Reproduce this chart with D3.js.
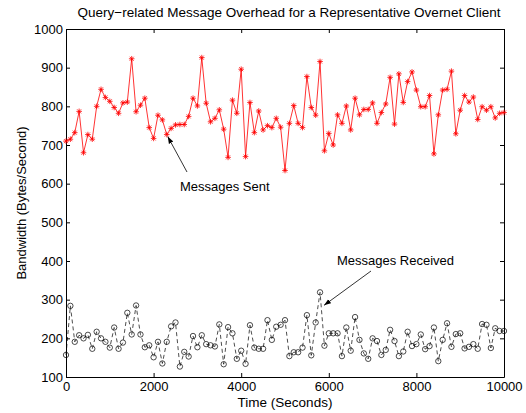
<!DOCTYPE html>
<html>
<head>
<meta charset="utf-8">
<script src="https://cdn.jsdelivr.net/npm/d3@7"></script>
<style>
  html, body { margin: 0; padding: 0; background: #fff; }
  svg { display: block; font-family: "Liberation Sans", Arial, Helvetica, sans-serif; }
</style>
</head>
<body>
<svg id="chart" width="526" height="413"></svg>
<script>
// Bandwidth samples (bytes/second), one every 100 seconds from t = 0 to t = 10000
const sentValues = [
  710, 715, 732, 787, 680, 727, 715, 800, 844, 823,
  813, 797, 782, 809, 811, 923, 786, 803, 821, 745,
  717, 777, 765, 727, 743, 752, 753, 753, 774, 821,
  801, 926, 808, 760, 769, 791, 741, 668, 816, 782,
  896, 670, 810, 732, 788, 739, 750, 745, 769, 746,
  634, 756, 802, 756, 745, 877, 797, 777, 916, 685,
  730, 700, 778, 756, 801, 739, 821, 778, 792, 792,
  809, 756, 784, 806, 875, 754, 884, 810, 864, 889,
  842, 799, 799, 828, 677, 778, 842, 844, 891, 729,
  790, 828, 811, 824, 766, 799, 790, 799, 770, 782,
  784
];
const receivedValues = [
  157, 284, 191, 208, 200, 209, 173, 217, 200, 191,
  176, 228, 173, 189, 266, 210, 285, 210, 177, 182,
  151, 191, 135, 191, 231, 241, 127, 165, 153, 206,
  177, 208, 185, 182, 179, 236, 133, 229, 213, 147,
  168, 134, 234, 176, 173, 173, 247, 196, 230, 235,
  247, 154, 164, 164, 176, 260, 156, 241, 319, 181,
  213, 213, 213, 154, 228, 168, 255, 196, 161, 147,
  200, 193, 157, 170, 222, 193, 154, 166, 217, 180,
  185, 210, 172, 180, 228, 141, 196, 239, 178, 211,
  213, 174, 178, 185, 173, 237, 235, 175, 226, 219,
  219
];
const sampleStep = 100;
const xTicks = [0, 2000, 4000, 6000, 8000, 10000];
const yTicks = [100, 200, 300, 400, 500, 600, 700, 800, 900, 1000];

const titleText = "Query\u2212related Message Overhead for a Representative Overnet Client";
const xLabel = "Time (Seconds)";
const yLabel = "Bandwidth (Bytes/Second)";
const sentLabel = "Messages Sent";
const receivedLabel = "Messages Received";
const sentPointed = 23;      // sample the "sent" arrow points at
const receivedPointed = 58;  // sample the "received" arrow points at

(function draw() {
  const svg = d3.select("#chart");
  const plotLeft = 66, plotRight = 504, plotTop = 29, plotBottom = 377;

  const x = d3.scaleLinear().domain([0, 10000]).range([plotLeft, plotRight]);
  const y = d3.scaleLinear().domain([100, 1000]).range([plotBottom, plotTop]);

  const sent = sentValues.map((v, i) => ({ t: i * sampleStep, v }));
  const received = receivedValues.map((v, i) => ({ t: i * sampleStep, v }));

  // Axes box with inward ticks on all four sides
  function styleAxis(g) {
    g.selectAll("path.domain").attr("stroke", "#000").attr("stroke-width", 1);
    g.selectAll(".tick line").attr("stroke", "#000").attr("stroke-width", 1);
    g.selectAll(".tick text").attr("fill", "#000").attr("font-size", 13)
      .attr("font-family", "'Liberation Sans', Arial, sans-serif");
  }
  svg.append("g").attr("transform", `translate(0,${plotBottom})`)
    .call(d3.axisBottom(x).tickValues(xTicks).tickFormat(d3.format("d"))
      .tickSizeInner(-4).tickSizeOuter(0).tickPadding(5))
    .call(styleAxis);
  svg.append("g").attr("transform", `translate(0,${plotTop})`)
    .call(d3.axisTop(x).tickValues(xTicks).tickFormat("")
      .tickSizeInner(-4).tickSizeOuter(0))
    .call(styleAxis);
  svg.append("g").attr("transform", `translate(${plotLeft},0)`)
    .call(d3.axisLeft(y).tickValues(yTicks).tickFormat(d3.format("d"))
      .tickSizeInner(-4).tickSizeOuter(0).tickPadding(3))
    .call(styleAxis);
  svg.append("g").attr("transform", `translate(${plotRight},0)`)
    .call(d3.axisRight(y).tickValues(yTicks).tickFormat("")
      .tickSizeInner(-4).tickSizeOuter(0))
    .call(styleAxis);

  const line = d3.line().x(d => x(d.t)).y(d => y(d.v));

  // Messages sent: solid red line with asterisk markers
  svg.append("path").datum(sent)
    .attr("d", line).attr("fill", "none")
    .attr("stroke", "#ff0000").attr("stroke-width", 0.8);
  const s = 2.8, sd = 2.0;
  svg.append("g").selectAll("path").data(sent).join("path")
    .attr("transform", d => `translate(${x(d.t)},${y(d.v)})`)
    .attr("d", `M${-s},0H${s}M0,${-s}V${s}M${-sd},${-sd}L${sd},${sd}M${-sd},${sd}L${sd},${-sd}`)
    .attr("stroke", "#ff0000").attr("stroke-width", 0.8).attr("fill", "none");

  // Messages received: dashed black line with open circle markers
  svg.append("path").datum(received)
    .attr("d", line).attr("fill", "none")
    .attr("stroke", "#000").attr("stroke-width", 0.7)
    .attr("stroke-dasharray", "4,3");
  svg.append("g").selectAll("circle").data(received).join("circle")
    .attr("cx", d => x(d.t)).attr("cy", d => y(d.v)).attr("r", 2.7)
    .attr("fill", "none").attr("stroke", "#000").attr("stroke-width", 0.7);

  // Arrowhead marker
  svg.append("defs").append("marker")
    .attr("id", "arrow").attr("viewBox", "0 0 10 10")
    .attr("refX", 10).attr("refY", 5)
    .attr("markerWidth", 7).attr("markerHeight", 7)
    .attr("markerUnits", "userSpaceOnUse")
    .attr("orient", "auto")
    .append("path").attr("d", "M0,1.5L10,5L0,8.5Z").attr("fill", "#000");

  // Annotations
  const sp = sent[sentPointed];
  svg.append("line")
    .attr("x1", 187).attr("y1", 172)
    .attr("x2", x(sp.t) + 1).attr("y2", y(sp.v) + 2)
    .attr("stroke", "#000").attr("stroke-width", 0.8)
    .attr("marker-end", "url(#arrow)");
  svg.append("text").attr("x", 180).attr("y", 191)
    .attr("font-size", 13).text(sentLabel);

  const rp = received[receivedPointed];
  svg.append("line")
    .attr("x1", 371).attr("y1", 271)
    .attr("x2", x(rp.t) + 4).attr("y2", y(rp.v) + 13)
    .attr("stroke", "#000").attr("stroke-width", 0.8)
    .attr("marker-end", "url(#arrow)");
  svg.append("text").attr("x", 337).attr("y", 265)
    .attr("font-size", 13).text(receivedLabel);

  // Titles
  svg.append("text").attr("x", 289).attr("y", 17)
    .attr("text-anchor", "middle").attr("font-size", 13.5).text(titleText);
  svg.append("text").attr("x", 285).attr("y", 407)
    .attr("text-anchor", "middle").attr("font-size", 13.5).text(xLabel);
  svg.append("text")
    .attr("transform", `translate(26,${(plotTop + plotBottom) / 2}) rotate(-90)`)
    .attr("text-anchor", "middle").attr("font-size", 13).text(yLabel);
})();
</script>
</body>
</html>
